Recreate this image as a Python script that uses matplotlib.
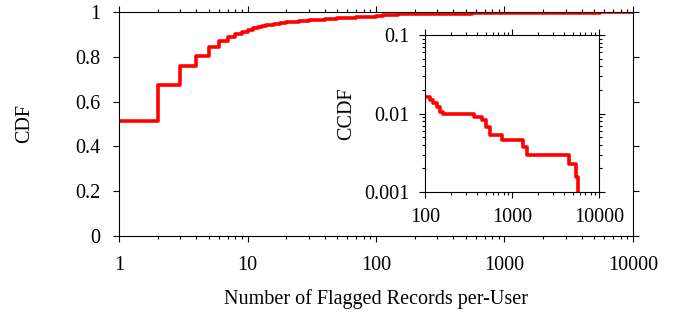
import numpy as np
import matplotlib
matplotlib.use("Agg")
import matplotlib.pyplot as plt
from matplotlib.ticker import FixedLocator, FixedFormatter, LogLocator, NullFormatter, NullLocator

plt.rcParams['font.family'] = ['Liberation Serif', 'DejaVu Serif']
plt.rcParams['font.size'] = 14.5

records = [1, 2, 3, 4, 5, 6, 7, 8, 9, 10, 11, 12, 13, 14, 15, 16, 18, 20, 25, 30, 40, 50, 70,
           100, 114, 125, 136, 149, 162, 370, 450, 505, 560, 760, 1350, 1480, 4470, 5500, 5800]
cdf = [0.513, 0.674, 0.760, 0.804, 0.845, 0.872, 0.889, 0.902, 0.912, 0.921, 0.927, 0.932,
       0.936, 0.940, 0.943, 0.946, 0.951, 0.955, 0.961, 0.966, 0.971, 0.974, 0.978,
       0.9839, 0.98514, 0.9865, 0.9880, 0.98946, 0.9901, 0.9909, 0.9917, 0.9932, 0.9947,
       0.9954, 0.9963, 0.9970, 0.99772, 0.99843, 1.0]

x_ticks = [1, 10, 100, 1000, 10000]
x_labels = ["1", "10", "100", "1000", "10000"]
y_ticks = [0, 0.2, 0.4, 0.6, 0.8, 1]
y_labels = ["0", "0.2", "0.4", "0.6", "0.8", "1"]
inset_x_ticks = [100, 1000, 10000]
inset_x_labels = ["100", "1000", "10000"]
inset_y_ticks = [0.001, 0.01, 0.1]
inset_y_labels = ["0.001", "0.01", "0.1"]

RED = "#ff0000"


def style_axes(ax):
    for s in ax.spines.values():
        s.set_linewidth(0.8)
    ax.tick_params(which='both', direction='out', top=True, right=True, width=0.8)
    ax.tick_params(which='major', length=4.3)
    ax.tick_params(which='minor', length=2.2)


fig = plt.figure(figsize=(6.88, 3.16), dpi=100)
ax = fig.add_axes([0.173, 0.2532, 0.747, 0.7088])

xs = list(records) + [10000]
ys = list(cdf) + [cdf[-1]]
ax.step(xs, ys, where='post', color=RED, lw=2.6)
ax.set_xscale('log')
ax.set_xlim(1, 10000)
ax.set_ylim(0, 1)
ax.xaxis.set_major_locator(FixedLocator(x_ticks))
ax.xaxis.set_major_formatter(FixedFormatter(x_labels))
ax.xaxis.set_minor_locator(LogLocator(base=10, subs=np.arange(2, 10)))
ax.xaxis.set_minor_formatter(NullFormatter())
ax.yaxis.set_major_locator(FixedLocator(y_ticks))
ax.yaxis.set_major_formatter(FixedFormatter(y_labels))
ax.yaxis.set_minor_locator(NullLocator())
style_axes(ax)
ax.tick_params(axis='x', pad=10)
ax.tick_params(axis='y', pad=9)
ax.set_xlabel("Number of Flagged Records per-User", labelpad=10)
ax.set_ylabel("CDF", labelpad=30)

# inset: CCDF of the tail
ins = fig.add_axes([0.6177, 0.3924, 0.2529, 0.4968])
tail_x = [x for x in records if x >= 100]
tail_ccdf = [1 - c for x, c in zip(records, cdf) if x >= 100]
ins.step(tail_x, tail_ccdf, where='post', color=RED, lw=2.6)
ins.set_xscale('log')
ins.set_yscale('log')
ins.set_xlim(100, 10000)
ins.set_ylim(0.001, 0.1)
ins.xaxis.set_major_locator(FixedLocator(inset_x_ticks))
ins.xaxis.set_major_formatter(FixedFormatter(inset_x_labels))
ins.xaxis.set_minor_locator(LogLocator(base=10, subs=np.arange(2, 10)))
ins.xaxis.set_minor_formatter(NullFormatter())
ins.yaxis.set_major_locator(FixedLocator(inset_y_ticks))
ins.yaxis.set_major_formatter(FixedFormatter(inset_y_labels))
ins.yaxis.set_minor_locator(LogLocator(base=10, subs=np.arange(2, 10)))
ins.yaxis.set_minor_formatter(NullFormatter())
style_axes(ins)
ins.tick_params(axis='x', pad=7)
ins.tick_params(axis='y', pad=7)
ins.set_ylabel("CCDF", labelpad=6)

fig.savefig("out.png", dpi=100)
